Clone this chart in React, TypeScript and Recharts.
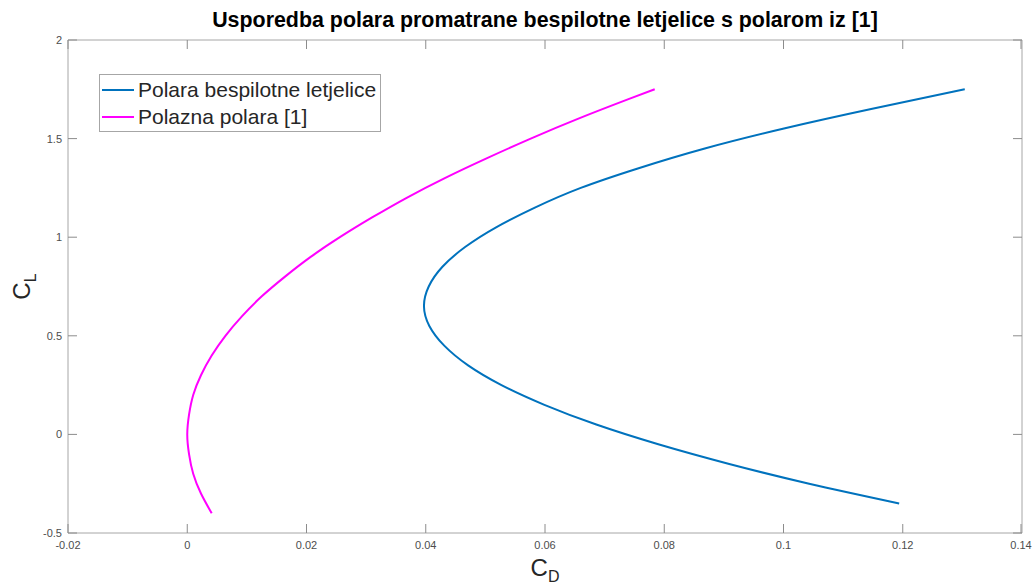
import React from 'react';
import { LineChart, Line, XAxis, YAxis, Legend } from 'recharts';

// Polara bespilotne letjelice (C_L -> C_D)
const uavCL = [-0.35, -0.25, -0.15, -0.05, 0.05, 0.15, 0.25, 0.35, 0.45, 0.55, 0.65, 0.75, 0.85, 0.95, 1.05, 1.15, 1.25, 1.35, 1.45, 1.55, 1.65, 1.75];
const uavCD = [0.1194, 0.1043, 0.0909, 0.0790, 0.0686, 0.0599, 0.0527, 0.0471, 0.0431, 0.0406, 0.0397, 0.0405, 0.0428, 0.0466, 0.0518, 0.0583, 0.0660, 0.0757, 0.0868, 0.0999, 0.1147, 0.1304];

// Polazna polara [1]
const refCL = [-0.4, -0.3, -0.2, -0.1, 0, 0.1, 0.2, 0.3, 0.4, 0.5, 0.6, 0.7, 0.8, 0.9, 1.0, 1.1, 1.2, 1.3, 1.4, 1.5, 1.6, 1.7, 1.75];
const refCD = [0.0041, 0.0023, 0.0010, 0.0003, 0.0, 0.0003, 0.0010, 0.0023, 0.0041, 0.0064, 0.0092, 0.0125, 0.0164, 0.0207, 0.0256, 0.0310, 0.0368, 0.0432, 0.0502, 0.0576, 0.0655, 0.0740, 0.0784];

const xTicks = [-0.02, 0, 0.02, 0.04, 0.06, 0.08, 0.1, 0.12, 0.14];
const yTicks = [-0.5, 0, 0.5, 1, 1.5, 2];

const seriesNames = ['Polara bespilotne letjelice', 'Polazna polara [1]'];
const seriesColors = ['#0072BD', '#FF00FF'];

const uavData = uavCL.map((cl, i) => ({ cl, cd: uavCD[i] }));
const refData = refCL.map((cl, i) => ({ cl, cd: refCD[i] }));

const FONT = '"Liberation Sans", Arial, Helvetica, sans-serif';
const AXIS = '#a6a6a6';
const TICKC = '#8c8c8c';
const LABEL = '#4d4d4d';
const TL = 9; // inward tick length (MATLAB style)
const XM = 8;
const YM = 6;

// ticks drawn inside the box, labels outside
function BottomTick(props: any) {
  const { x, y, payload } = props;
  const ay = y - XM;
  return (
    <g>
      <line x1={x} y1={ay} x2={x} y2={ay - TL} stroke={TICKC} />
      <text x={x} y={y} dy="0.71em" textAnchor="middle" fontSize={11} fontFamily={FONT} fill={LABEL}>{payload.value}</text>
    </g>
  );
}

function LeftTick(props: any) {
  const { x, y, payload } = props;
  const ax = x + YM;
  return (
    <g>
      <line x1={ax} y1={y} x2={ax + TL} y2={y} stroke={TICKC} />
      <text x={x} y={y} dy="0.355em" textAnchor="end" fontSize={11} fontFamily={FONT} fill={LABEL}>{payload.value}</text>
    </g>
  );
}

function TopTick(props: any) {
  const { x, y } = props;
  return <line x1={x} y1={y} x2={x} y2={y + TL} stroke={TICKC} />;
}

function RightTick(props: any) {
  const { x, y } = props;
  return <line x1={x} y1={y} x2={x - TL} y2={y} stroke={TICKC} />;
}

function XLabel(props: any) {
  const vb = props.viewBox;
  return (
    <text x={vb.x + vb.width / 2} y={576} textAnchor="middle" fontFamily={FONT} fill="#262626">
      <tspan fontSize={24}>C</tspan>
      <tspan fontSize={16} dy={6}>D</tspan>
    </text>
  );
}

function YLabel(props: any) {
  const vb = props.viewBox;
  const cy = vb.y + vb.height / 2;
  return (
    <text x={30} y={cy} textAnchor="middle" fontFamily={FONT} fill="#262626" transform={`rotate(-90, 30, ${cy})`}>
      <tspan fontSize={24}>C</tspan>
      <tspan fontSize={16} dy={6}>L</tspan>
    </text>
  );
}

function LegendBox() {
  return (
    <div style={{ border: `1px solid ${AXIS}`, background: '#fff', padding: '1px 4px 1px 2px', fontFamily: FONT, fontSize: 21, color: '#262626', whiteSpace: 'nowrap' }}>
      {seriesNames.map((n, i) => (
        <div key={n} style={{ display: 'flex', alignItems: 'center', height: 27 }}>
          <span style={{ display: 'inline-block', width: 32, height: 2, background: seriesColors[i], marginRight: 4 }} />
          {n}
        </div>
      ))}
    </div>
  );
}

export default function App() {
  return (
    <div style={{ position: 'relative', width: 1035, height: 585, background: '#fff' }}>
      <style>{'body{margin:0}'}</style>
      <div style={{ position: 'absolute', top: 8, left: 68, width: 954, textAlign: 'center', fontFamily: FONT, fontWeight: 'bold', fontSize: 21.4, color: '#000' }}>
        Usporedba polara promatrane bespilotne letjelice s polarom iz [1]
      </div>
      <LineChart width={1035} height={585} margin={{ top: 0, right: 0, bottom: 0, left: 0 }}>
        <XAxis xAxisId="b" type="number" dataKey="cd" domain={[-0.02, 0.14]} ticks={xTicks} height={52}
          allowDataOverflow stroke={AXIS} tickLine={false} tickSize={0} tickMargin={XM} tick={<BottomTick />} label={<XLabel />} />
        <XAxis xAxisId="t" orientation="top" type="number" dataKey="cd" domain={[-0.02, 0.14]} ticks={xTicks} height={40}
          allowDataOverflow stroke={AXIS} tickLine={false} tickSize={0} tickMargin={0} tick={<TopTick />} />
        <YAxis yAxisId="l" type="number" dataKey="cl" domain={[-0.5, 2]} ticks={yTicks} width={68}
          allowDataOverflow stroke={AXIS} tickLine={false} tickSize={0} tickMargin={YM} tick={<LeftTick />} label={<YLabel />} />
        <YAxis yAxisId="r" orientation="right" type="number" dataKey="cl" domain={[-0.5, 2]} ticks={yTicks} width={13}
          allowDataOverflow stroke={AXIS} tickLine={false} tickSize={0} tickMargin={0} tick={<RightTick />} />
        <Legend verticalAlign="middle" layout="horizontal" content={<LegendBox />}
          wrapperStyle={{ position: 'absolute', left: 99, top: 74, width: 'auto' }} />
        <Line xAxisId="b" yAxisId="l" data={uavData} dataKey="cl" name={seriesNames[0]} type="natural"
          stroke={seriesColors[0]} strokeWidth={2} dot={false} isAnimationActive={false} />
        <Line xAxisId="b" yAxisId="l" data={refData} dataKey="cl" name={seriesNames[1]} type="natural"
          stroke={seriesColors[1]} strokeWidth={2} dot={false} isAnimationActive={false} />
      </LineChart>
    </div>
  );
}
